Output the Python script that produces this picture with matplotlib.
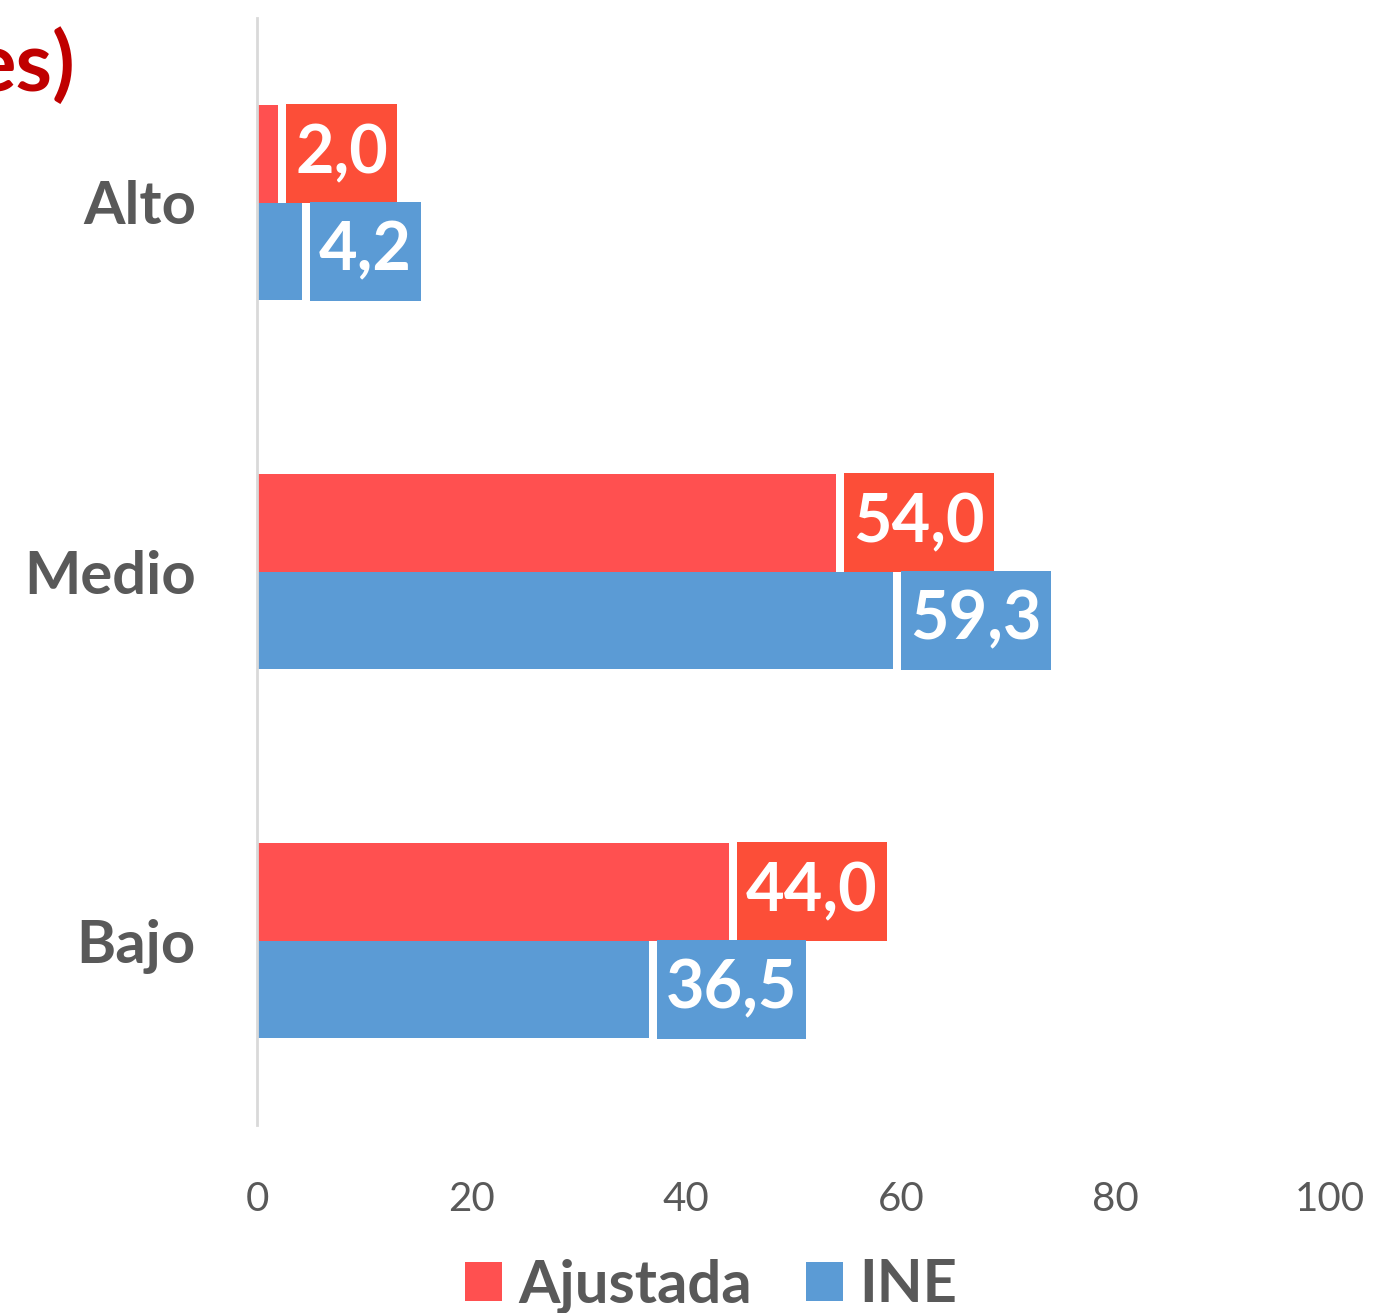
import matplotlib
matplotlib.use("Agg")
import matplotlib.pyplot as plt
import numpy as np

categories = ["Alto", "Medio", "Bajo"]
ajustada = [2.0, 54.0, 44.0]
ine = [4.2, 59.3, 36.5]
series_names = ["Ajustada", "INE"]
xticks = [0, 20, 40, 60, 80, 100]

RED = "#FF5050"
RED_LBL = "#FC4E38"
BLUE = "#5B9BD5"
GRAY = "#595959"

plt.rcParams['font.family'] = ['Lato', 'DejaVu Sans']

W, H = 1373, 1313
fig = plt.figure(figsize=(W / 100, H / 100), dpi=100)
ax = fig.add_axes([257 / W, 1 - 1125 / H, (1330 - 257) / W, (1125 - 18) / H])

y = np.arange(len(categories))
h = 0.263
ax.barh(y - h / 2, ajustada, height=h, color=RED, label=series_names[0])
ax.barh(y + h / 2, ine, height=h, color=BLUE, label=series_names[1])

ax.set_xlim(0, 100)
ax.set_ylim(2.5, -0.5)
ax.set_xticks(xticks)
ax.set_xticklabels([str(t) for t in xticks], fontsize=29, color=GRAY)
ax.set_yticks(y)
ax.set_yticklabels(categories, fontsize=43, fontweight='bold', color=GRAY)
ax.tick_params(axis='both', length=0)
ax.tick_params(axis='x', pad=40)
ax.tick_params(axis='y', pad=44)
for s in ["top", "right", "bottom"]:
    ax.spines[s].set_visible(False)
ax.spines["left"].set_color("#D9D9D9")
ax.spines["left"].set_linewidth(2)

fig.canvas.draw()
renderer = fig.canvas.get_renderer()
px_per_unit = ax.transData.transform((1, 0))[0] - ax.transData.transform((0, 0))[0]
gap = 8 / px_per_unit
padx = 9 / px_per_unit

def label(vals, offset, boxcolor):
    for yi, v in zip(y, vals):
        txt = f"{v:.1f}".replace(".", ",")
        t = ax.text(v + gap + padx, yi + offset, txt, ha='left', va='center',
                    fontsize=48, fontweight='bold', color='white', zorder=5)
        bb = t.get_window_extent(renderer)
        wdat = bb.width / px_per_unit
        ax.barh(yi + offset, wdat + 2 * padx, left=v + gap, height=h * 1.02,
                color=boxcolor, zorder=4)

label(ajustada, -h / 2, RED_LBL)
label(ine, h / 2, BLUE)

leg = fig.legend(handles=ax.patches[:1] + [ax.patches[len(categories)]],
                 labels=series_names, loc='center', bbox_to_anchor=(0.518, 1 - 1286 / H),
                 ncol=2, frameon=False, fontsize=43, handlelength=0.62, handleheight=0.62,
                 handletextpad=0.28, columnspacing=0.9)
for t in leg.get_texts():
    t.set_color(GRAY)
    t.set_fontweight('bold')

fig.text(75 / W, 1 - 66 / H, "es)", ha='right', va='center', fontsize=60,
         fontweight='bold', color="#C00000")

fig.savefig("out.png", dpi=100)
